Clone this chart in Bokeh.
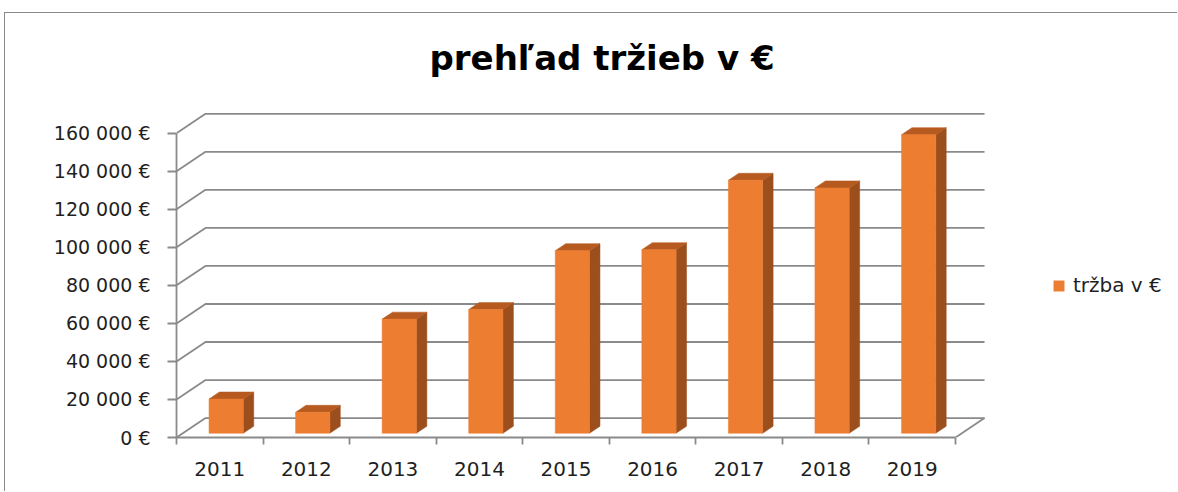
from bokeh.plotting import figure
from bokeh.models import (Range1d, FixedTicker, Legend, LegendItem)
from bokeh.embed import file_html
from bokeh.resources import INLINE

# ---- data ----
years = ["2011", "2012", "2013", "2014", "2015", "2016", "2017", "2018", "2019"]
revenue = [18000, 11000, 60000, 65000, 96000, 96500, 133000, 129000, 157000]
y_ticks = [0, 20000, 40000, 60000, 80000, 100000, 120000, 140000, 160000]
title_text = "prehľad tržieb v €"
series_name = "tržba v €"

# ---- style / geometry constants ----
FRONT = "#ED7D31"
SIDE = "#9C4F1D"
TOP = "#B65A20"
GRID = "#8a8a8a"
TEXT = "#1f1f1f"
PX_PER_CAT = 86.56          # px per category
PX_PER_EUR = 1.9019 / 1000  # px per euro
WALL_DX = 29 / PX_PER_CAT        # depth offset of back wall (x, data units)
WALL_DY = 19.4 / PX_PER_EUR      # depth offset of back wall (y, data units)
F0, F1 = 0.22, 0.58              # bar front/back depth fractions
HALF_W = 0.198                   # half bar width
n = len(years)
X0 = -0.5
FRAME_W, FRAME_H = 992, 337

p = figure(width=1173, height=479, output_backend="svg", toolbar_location=None,
           x_range=Range1d(X0, X0 + FRAME_W / PX_PER_CAT),
           y_range=Range1d(0, FRAME_H / PX_PER_EUR),
           min_border_left=171, min_border_right=10, min_border_top=87,
           min_border_bottom=55)
p.styles = {"margin-left": "4px", "margin-top": "12px",
            "border-top": "1px solid #8a8a8a", "border-left": "1px solid #8a8a8a"}
p.outline_line_color = None
p.xgrid.visible = False
p.ygrid.visible = False

# title
p.title.text = title_text
p.title.text_font = "DejaVu Sans"
p.title.text_font_style = "bold"
p.title.text_font_size = "34px"
p.title.text_color = "black"
p.title.align = "left"
p.title.offset = 253
p.title.standoff = 45

# 3D walls / gridlines
gx, gy = [], []
for v in y_ticks:
    gx.append([X0, X0 + WALL_DX, X0 + n + WALL_DX])
    gy.append([v, v + WALL_DY, v + WALL_DY])
gx.append([X0 + n, X0 + n + WALL_DX])
gy.append([0, WALL_DY])
p.multi_line(gx, gy, line_color=GRID, line_width=1.8)

# bars
dx0, dy0 = F0 * WALL_DX, F0 * WALL_DY
dx1, dy1 = F1 * WALL_DX, F1 * WALL_DY
lefts = [i - HALF_W + dx0 for i in range(n)]
rights = [i + HALF_W + dx0 for i in range(n)]
side_xs, side_ys, top_xs, top_ys = [], [], [], []
for i, v in enumerate(revenue):
    L0, R0 = lefts[i], rights[i]
    L1, R1 = i - HALF_W + dx1, i + HALF_W + dx1
    side_xs.append([R0, R1, R1, R0])
    side_ys.append([dy0, dy1, v + dy1, v + dy0])
    top_xs.append([L0, R0, R1, L1])
    top_ys.append([v + dy0, v + dy0, v + dy1, v + dy1])
p.patches(side_xs, side_ys, fill_color=SIDE, line_color=SIDE, line_width=0.5)
p.patches(top_xs, top_ys, fill_color=TOP, line_color=TOP, line_width=0.5)
front = p.quad(left=lefts, right=rights, bottom=[dy0] * n,
               top=[v + dy0 for v in revenue],
               fill_color=FRONT, line_color=FRONT, line_width=0.5)

# y axis
ya = p.yaxis[0]
ya.ticker = FixedTicker(ticks=y_ticks)
ya.major_label_overrides = {v: f"{v:,}".replace(",", " ") + " €" for v in y_ticks}
ya.bounds = (0, y_ticks[-1])
ya.axis_line_color = GRID
ya.axis_line_width = 1.8
ya.major_tick_line_color = GRID
ya.major_tick_line_width = 1.8
ya.major_tick_out = 9
ya.major_tick_in = 0
ya.minor_tick_line_color = None
ya.major_label_standoff = 17
ya.major_label_text_font = "DejaVu Sans"
ya.major_label_text_font_size = "19px"
ya.major_label_text_color = TEXT

# x axis
xa = p.xaxis[0]
xa.ticker = FixedTicker(ticks=list(range(n)),
                        minor_ticks=[X0 + k for k in range(n + 1)])
xa.major_label_overrides = {i: y for i, y in enumerate(years)}
xa.bounds = (X0, X0 + n)
xa.axis_line_color = GRID
xa.axis_line_width = 1.8
xa.major_tick_line_color = None
xa.major_tick_out = 0
xa.major_tick_in = 0
xa.minor_tick_line_color = GRID
xa.minor_tick_line_width = 1.8
xa.minor_tick_out = 7
xa.minor_tick_in = 0
xa.major_label_standoff = 17
xa.major_label_text_font = "DejaVu Sans"
xa.major_label_text_font_size = "20px"
xa.major_label_text_color = TEXT

# legend
legend = Legend(items=[LegendItem(label=series_name, renderers=[front])],
                location=(876, 140), padding=0, margin=0,
                glyph_width=13, glyph_height=13, label_height=13,
                label_standoff=8, label_text_font="DejaVu Sans",
                label_text_font_size="20px", label_text_color=TEXT,
                background_fill_alpha=0, border_line_color=None)
p.add_layout(legend)

open("out.html", "w").write(file_html(p, INLINE))
